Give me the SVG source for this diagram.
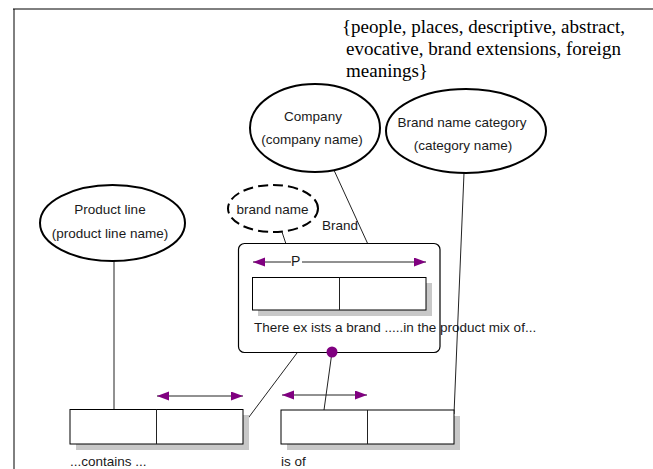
<svg xmlns="http://www.w3.org/2000/svg" width="653" height="469" viewBox="0 0 653 469">
<defs>
<style>
.ell{fill:#fff;stroke:#000;stroke-width:2}
.dash{stroke-dasharray:10 5}
.lbl{font-family:"Liberation Sans",Arial,sans-serif;font-size:13.5px;fill:#1a1a1a}
.mid{text-anchor:middle}
.ser{font-family:"Liberation Serif","Times New Roman",serif;font-size:19px;fill:#000}
.box{fill:#fff;stroke:#000;stroke-width:1}
.shadow{fill:#c8c8c8}
.ln{fill:none;stroke:#222;stroke-width:1}
.arr{fill:none;stroke:#222;stroke-width:1;marker-start:url(#ah);marker-end:url(#ah)}
</style>
<marker id="ah" markerUnits="userSpaceOnUse" markerWidth="13" markerHeight="10" refX="12" refY="4.5" orient="auto-start-reverse">
<path d="M0,0 L12,4.5 L0,9 z" fill="#800080"/>
</marker>
</defs>
<rect width="653" height="469" fill="#fff"/>
<g id="frame">
<line x1="13" y1="9" x2="653" y2="9" stroke="#000" stroke-width="1"/>
<line x1="14" y1="9" x2="14" y2="469" stroke="#000" stroke-width="1"/>
</g>
<g id="categories-note">
<text class="ser" x="342" y="33">{people, places, descriptive, abstract,</text>
<text class="ser" x="346" y="55">evocative, brand extensions, foreign</text>
<text class="ser" x="346" y="77">meanings}</text>
</g>
<g id="connectors">
<line class="ln" x1="333" y1="168" x2="383" y2="277"/>
<line class="ln" x1="464" y1="173" x2="454" y2="414"/>
<line class="ln" x1="282" y1="232" x2="297" y2="277"/>
<line class="ln" x1="114" y1="261" x2="114" y2="409"/>
<line class="ln" x1="297" y1="353" x2="243" y2="425"/>
<line class="ln" x1="332" y1="352" x2="324" y2="410"/>
</g>
<g id="company">
<ellipse class="ell" cx="315" cy="128" rx="65" ry="44"/>
<text class="lbl mid" x="313" y="121">Company</text>
<text class="lbl mid" x="312" y="144">(company  name)</text>
</g>
<g id="brand-name-category">
<ellipse class="ell" cx="466" cy="131" rx="80" ry="42"/>
<text class="lbl mid" x="462" y="127">Brand name category</text>
<text class="lbl mid" x="463" y="150">(category  name)</text>
</g>
<g id="product-line">
<ellipse class="ell" cx="112.5" cy="223" rx="72.5" ry="38"/>
<text class="lbl mid" x="110" y="214">Product line</text>
<text class="lbl mid" x="110" y="238">(product line name)</text>
</g>
<g id="brand-name">
<ellipse class="ell dash" cx="273" cy="208.5" rx="45" ry="23.5"/>
<text class="lbl mid" x="272.5" y="214">brand name</text>
</g>
<g id="brand">
<rect x="238.5" y="243.5" width="201.5" height="109" rx="6" fill="#fff" stroke="#000" stroke-width="1.2"/>
<text class="lbl" x="322" y="230">Brand</text>
<line class="ln" x1="253" y1="262" x2="291" y2="262" style="marker-start:url(#ah)"/>
<line class="ln" x1="302" y1="262" x2="426" y2="262" style="marker-end:url(#ah)"/>
<text class="lbl" x="291" y="266" style="font-size:14px">P</text>
<rect class="shadow" x="258" y="283" width="174" height="33"/>
<rect class="box" x="252.5" y="277.5" width="173.5" height="32.5"/>
<line class="ln" x1="339.5" y1="277.5" x2="339.5" y2="310"/>
<text class="lbl" x="254" y="332">There ex ists a brand .....in the product mix of...</text>
<circle cx="332" cy="352" r="5.5" fill="#800080"/>
</g>
<g id="contains">
<rect class="shadow" x="76" y="415" width="173" height="35"/>
<rect class="box" x="70" y="409.5" width="173" height="34.5"/>
<line class="ln" x1="156.5" y1="409.5" x2="156.5" y2="444"/>
<line class="arr" x1="157" y1="396" x2="243" y2="396"/>
<text class="lbl" x="70" y="466">...contains ...</text>
</g>
<g id="is-of">
<rect class="shadow" x="287" y="416" width="173" height="34"/>
<rect class="box" x="281" y="410" width="173" height="34"/>
<line class="ln" x1="367.5" y1="410" x2="367.5" y2="444"/>
<line class="arr" x1="282" y1="395" x2="367" y2="395"/>
<text class="lbl" x="281" y="466">is  of</text>
</g>
</svg>
